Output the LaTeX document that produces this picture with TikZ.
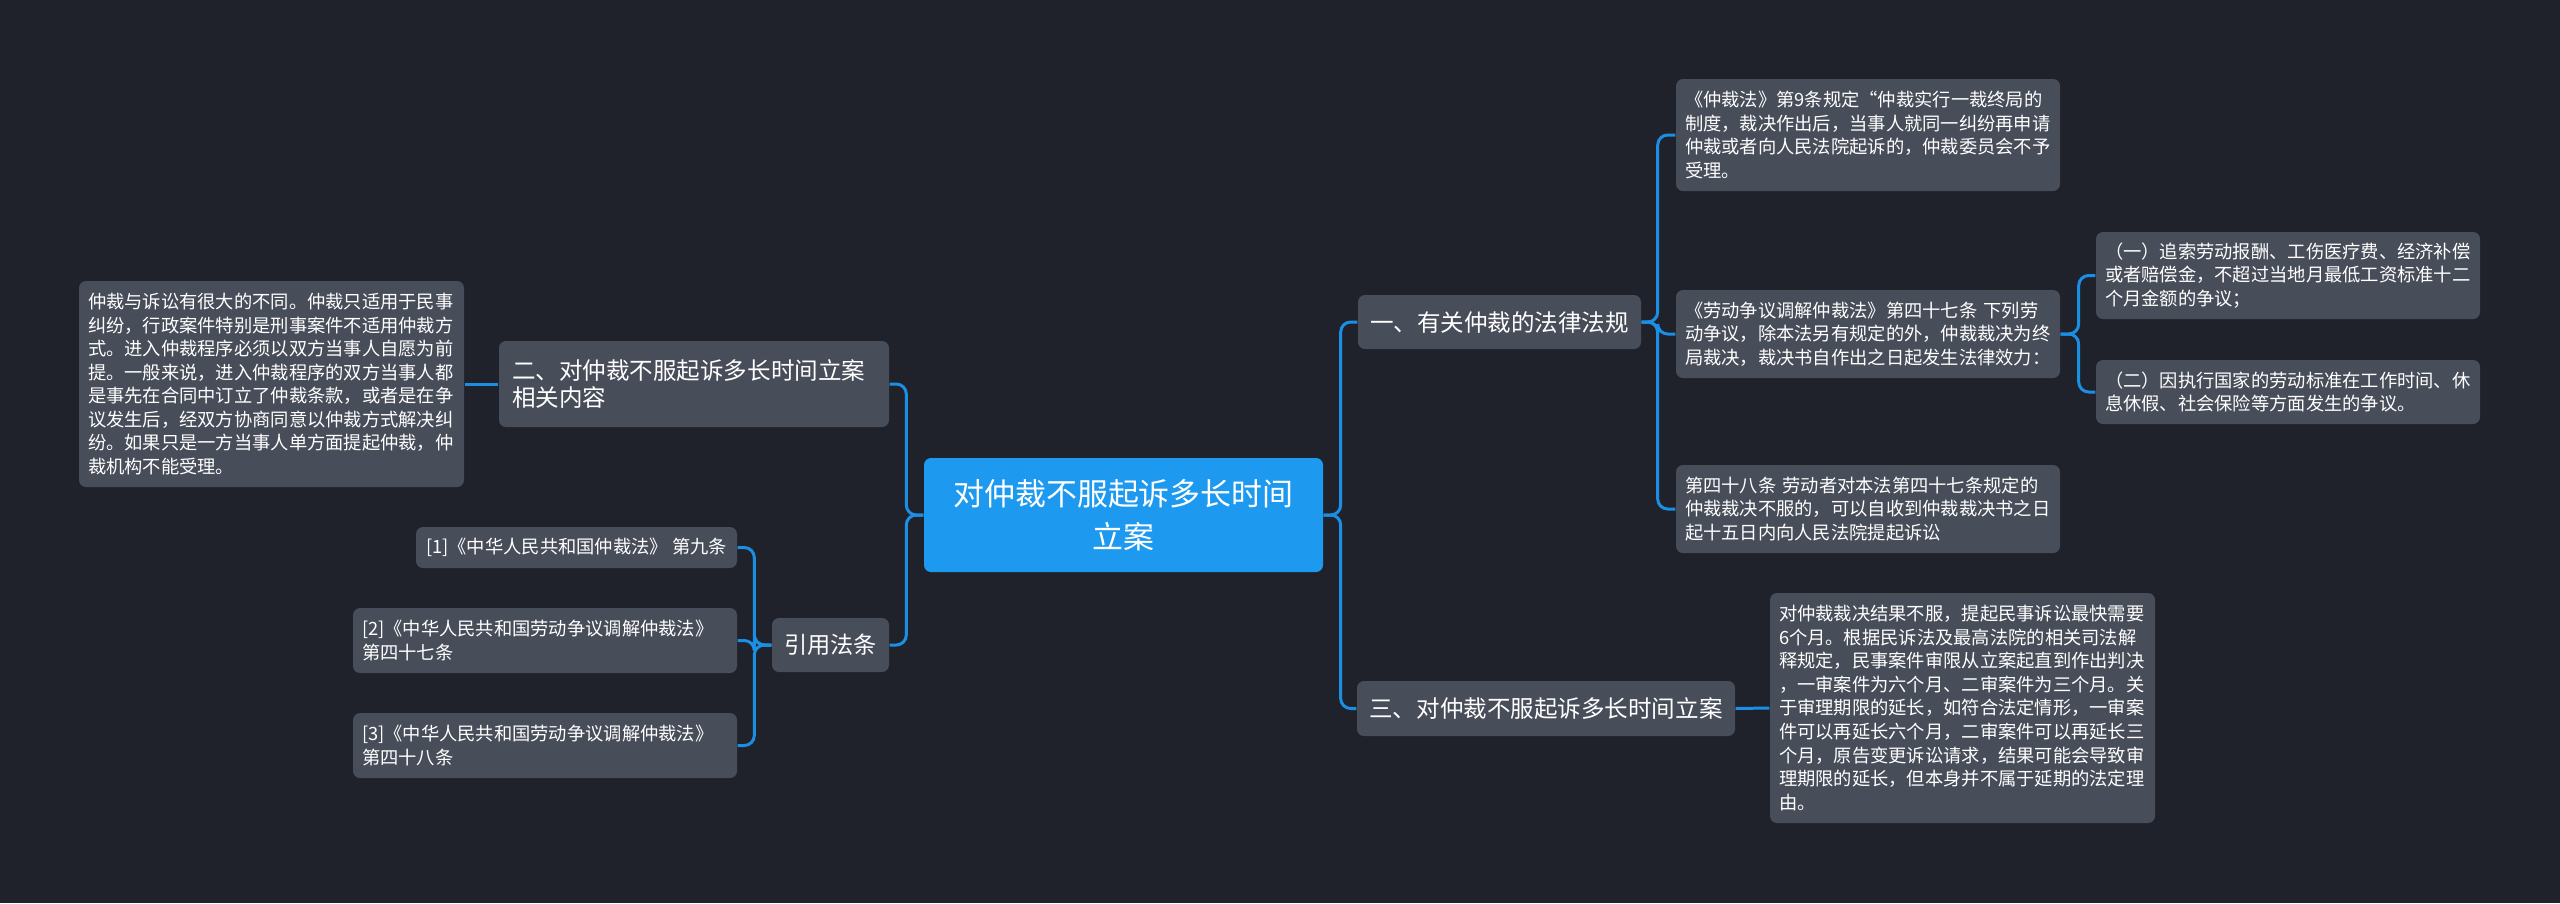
\documentclass[tikz,border=0pt]{standalone}
\usepackage{fontspec}
\usepackage{tikz}
\newfontfamily\cjk{Noto Sans CJK SC}
\definecolor{bgdark}{HTML}{1F222B}
\definecolor{boxgray}{HTML}{484D5A}
\definecolor{linkblue}{HTML}{1B8FE4}
\definecolor{rootblue}{HTML}{1D9AF0}

\begin{document}
\begin{tikzpicture}[x=1cm,y=-1cm,
  box/.style={fill=boxgray,rounded corners=0.07cm,text=white,inner xsep=0.09cm,inner ysep=0pt},
  topic/.style={box,align=center,font=\cjk\fontsize{6.7}{7.6}\selectfont},
  leaf/.style={box,align=left,text width=3.66cm,font=\cjk\fontsize{5.2}{6.7}\selectfont},
  link/.style={linkblue,line width=0.85pt,rounded corners=0.1cm}]
\fill[bgdark] (0,0) rectangle (25.6,9.03);
\node[box,fill=rootblue,align=center,minimum width=3.99cm,minimum height=1.14cm,font=\cjk\fontsize{8.8}{12.2}\selectfont] (root) at (11.235,5.15) {对仲裁不服起诉多长时间\\立案};
\node[topic,align=left,text width=3.64cm,inner xsep=0.13cm,minimum height=0.86cm] (n2) at (6.94,3.84) {二、对仲裁不服起诉多长时间立案\\相关内容};
\node[leaf,text width=3.67cm,minimum height=2.06cm] (ld) at (2.715,3.84) {仲裁与诉讼有很大的不同。仲裁只适用于民事\\纠纷，行政案件特别是刑事案件不适用仲裁方\\式。进入仲裁程序必须以双方当事人自愿为前\\提。一般来说，进入仲裁程序的双方当事人都\\是事先在合同中订立了仲裁条款，或者是在争\\议发生后，经双方协商同意以仲裁方式解决纠\\纷。如果只是一方当事人单方面提起仲裁，仲\\裁机构不能受理。};
\node[topic,minimum width=1.17cm,minimum height=0.54cm,font=\cjk\fontsize{6.6}{7.6}\selectfont] (refs) at (8.305,6.45) {引用法条};
\node[box,minimum width=3.21cm,minimum height=0.41cm,font=\cjk\fontsize{5.2}{6.7}\selectfont] (r1) at (5.765,5.475) {[1]《中华人民共和国仲裁法》~第九条};
\node[leaf,minimum height=0.65cm] (r2) at (5.45,6.405) {[2]《中华人民共和国劳动争议调解仲裁法》\\第四十七条};
\node[leaf,minimum height=0.65cm] (r3) at (5.45,7.455) {[3]《中华人民共和国劳动争议调解仲裁法》\\第四十八条};
\node[topic,minimum width=2.83cm,minimum height=0.54cm] (n1) at (14.995,3.22) {一、有关仲裁的法律法规};
\node[leaf,minimum height=1.12cm] (A) at (18.68,1.35) {《仲裁法》第9条规定“仲裁实行一裁终局的\\制度，裁决作出后，当事人就同一纠纷再申请\\仲裁或者向人民法院起诉的，仲裁委员会不予\\受理。};
\node[leaf,minimum height=0.88cm] (B) at (18.68,3.34) {《劳动争议调解仲裁法》第四十七条~下列劳\\动争议，除本法另有规定的外，仲裁裁决为终\\局裁决，裁决书自作出之日起发生法律效力：};
\node[leaf,minimum height=0.88cm] (C) at (18.68,5.09) {第四十八条~劳动者对本法第四十七条规定的\\仲裁裁决不服的，可以自收到仲裁裁决书之日\\起十五日内向人民法院提起诉讼};
\node[leaf,minimum height=0.87cm] (B1) at (22.88,2.755) {（一）追索劳动报酬、工伤医疗费、经济补偿\\或者赔偿金，不超过当地月最低工资标准十二\\个月金额的争议；};
\node[leaf,minimum height=0.64cm] (B2) at (22.88,3.92) {（二）因执行国家的劳动标准在工作时间、休\\息休假、社会保险等方面发生的争议。};
\node[topic,minimum width=3.78cm,minimum height=0.55cm] (n3) at (15.46,7.085) {三、对仲裁不服起诉多长时间立案};
\node[leaf,text width=3.67cm,minimum height=2.30cm] (D) at (19.625,7.08) {对仲裁裁决结果不服，提起民事诉讼最快需要\\6个月。根据民诉法及最高法院的相关司法解\\释规定，民事案件审限从立案起直到作出判决\\，一审案件为六个月、二审案件为三个月。关\\于审理期限的延长，如符合法定情形，一审案\\件可以再延长六个月，二审案件可以再延长三\\个月，原告变更诉讼请求，结果可能会导致审\\理期限的延长，但本身并不属于延期的法定理\\由。};
\foreach \t in {n2,refs}{\draw[link] (root.west) -- ++(-0.17,0) |- (\t.east);}
\draw[link] (n2.west) -- (ld.east);
\foreach \t in {r1,r2,r3}{\draw[link] (refs.west) -- ++(-0.17,0) |- (\t.east);}
\foreach \t in {n1,n3}{\draw[link] (root.east) -- ++(0.17,0) |- (\t.west);}
\foreach \t in {A,B,C}{\draw[link] (n1.east) -- ++(0.16,0) |- (\t.west);}
\foreach \t in {B1,B2}{\draw[link] (B.east) -- ++(0.18,0) |- (\t.west);}
\draw[link] (n3.east) -- (D.west);
\end{tikzpicture}
\end{document}
